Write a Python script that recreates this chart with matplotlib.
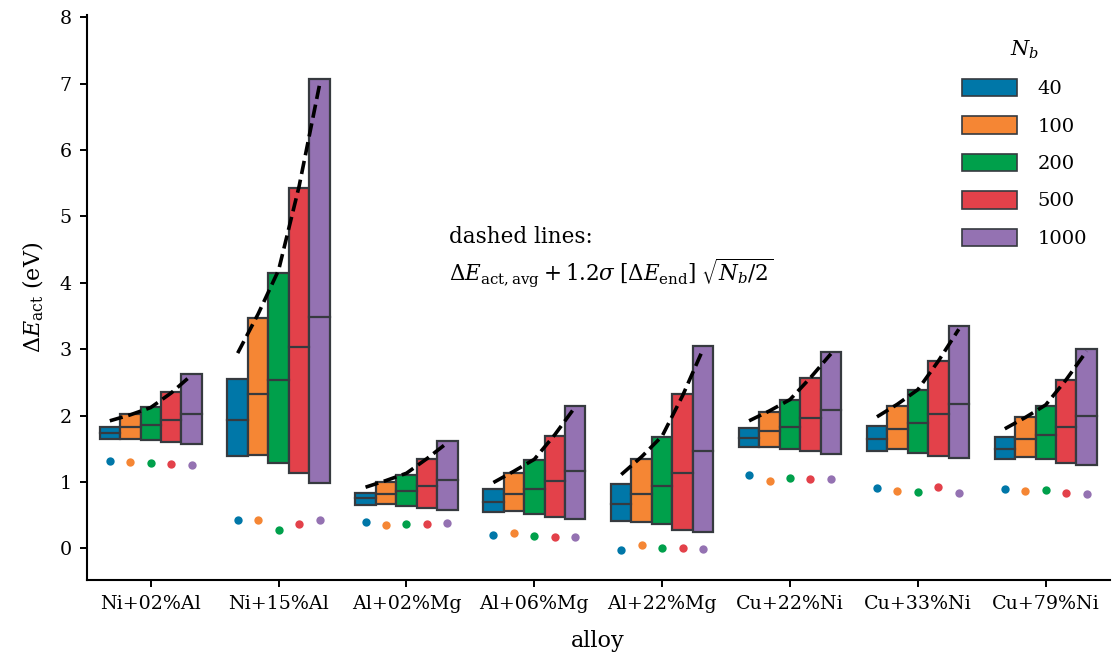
import numpy as np
import matplotlib
matplotlib.use("Agg")
import matplotlib.pyplot as plt
from matplotlib.patches import Patch

plt.rcParams["font.family"] = ["DejaVu Serif"]
plt.rcParams["mathtext.fontset"] = "dejavuserif"

alloys = ["Ni+02%Al", "Ni+15%Al", "Al+02%Mg", "Al+06%Mg",
          "Al+22%Mg", "Cu+22%Ni", "Cu+33%Ni", "Cu+79%Ni"]
n_b = ["40", "100", "200", "500", "1000"]
colors = ["#0077a8", "#f58634", "#00a04b", "#e3414a", "#9472b2"]

# box limits per alloy (rows) and N_b (columns)
low = np.array([
    [1.64, 1.65, 1.63, 1.60, 1.57],
    [1.39, 1.40, 1.29, 1.13, 0.99],
    [0.65, 0.66, 0.63, 0.61, 0.58],
    [0.55, 0.56, 0.51, 0.47, 0.44],
    [0.41, 0.40, 0.36, 0.28, 0.25],
    [1.53, 1.53, 1.50, 1.47, 1.42],
    [1.46, 1.49, 1.44, 1.39, 1.36],
    [1.35, 1.38, 1.34, 1.29, 1.26],
])
median = np.array([
    [1.74, 1.82, 1.85, 1.93, 2.02],
    [1.93, 2.33, 2.54, 3.03, 3.48],
    [0.75, 0.81, 0.86, 0.94, 1.03],
    [0.70, 0.81, 0.89, 1.01, 1.17],
    [0.66, 0.82, 0.94, 1.14, 1.46],
    [1.66, 1.76, 1.82, 1.96, 2.08],
    [1.64, 1.79, 1.88, 2.02, 2.18],
    [1.49, 1.65, 1.70, 1.82, 1.99],
])
high = np.array([
    [1.82, 2.02, 2.13, 2.36, 2.62],
    [2.55, 3.47, 4.14, 5.42, 7.07],
    [0.83, 1.00, 1.11, 1.35, 1.61],
    [0.89, 1.14, 1.33, 1.69, 2.14],
    [0.97, 1.34, 1.68, 2.33, 3.05],
    [1.81, 2.05, 2.24, 2.57, 2.95],
    [1.84, 2.15, 2.38, 2.82, 3.35],
    [1.68, 1.97, 2.15, 2.53, 3.00],
])
dots = np.array([
    [1.32, 1.30, 1.29, 1.27, 1.26],
    [0.43, 0.42, 0.27, 0.37, 0.43],
    [0.39, 0.35, 0.36, 0.36, 0.38],
    [0.20, 0.23, 0.19, 0.17, 0.17],
    [-0.02, 0.05, 0.00, 0.00, -0.01],
    [1.11, 1.02, 1.06, 1.04, 1.05],
    [0.91, 0.87, 0.85, 0.92, 0.84],
    [0.89, 0.86, 0.88, 0.84, 0.81],
])
dashed = np.array([
    [1.92, 2.01, 2.12, 2.34, 2.61],
    [2.94, 3.53, 4.19, 5.45, 6.98],
    [0.92, 1.02, 1.13, 1.35, 1.59],
    [0.99, 1.16, 1.34, 1.71, 2.13],
    [1.11, 1.38, 1.69, 2.30, 3.00],
    [1.92, 2.07, 2.24, 2.57, 2.93],
    [1.98, 2.17, 2.39, 2.82, 3.30],
    [1.80, 1.97, 2.16, 2.54, 2.97],
])

fig = plt.figure(figsize=(11.13, 6.63), dpi=100)
ax = fig.add_axes([0.078, 0.125, 0.919, 0.852])

x = np.arange(len(alloys))
w = 0.16
edge = "#363a3f"
for j in range(len(n_b)):
    xs = x + (j - 2) * w
    ax.bar(xs, high[:, j] - low[:, j], bottom=low[:, j], width=w,
           color=colors[j], edgecolor=edge, linewidth=1.6, zorder=2)
    for i in range(len(alloys)):
        ax.plot([xs[i] - w / 2, xs[i] + w / 2], [median[i, j]] * 2,
                color=edge, lw=1.6, zorder=3)
    ax.scatter(xs, dots[:, j], s=36, color=colors[j], zorder=3, linewidths=0)

for i in range(len(alloys)):
    xs = x[i] + (np.arange(len(n_b)) - 2) * w
    ax.plot(xs, dashed[i], color="black", ls="--", lw=2.6, zorder=4)

ax.text(2.33, 4.86,
        "dashed lines:\n"
        r"$\Delta E_{\mathrm{act,avg}} + 1.2\sigma\;[\Delta E_{\mathrm{end}}]\;\sqrt{N_b/2}$",
        fontsize=15.5, va="top", ha="left", linespacing=1.35)

handles = [Patch(facecolor=c, edgecolor=edge, linewidth=1.2) for c in colors]
leg = ax.legend(handles, n_b, title="$N_b$", loc="upper right",
                bbox_to_anchor=(0.995, 0.99), frameon=False, fontsize=14,
                title_fontsize=15, handlelength=2.85, handleheight=1.0,
                labelspacing=0.93, handletextpad=1.05)

ax.set_xlim(-0.5, 7.5)
ax.set_ylim(-0.48, 8.03)
ax.set_xticks(x)
ax.set_xticklabels(alloys)
ax.set_yticks(range(0, 9))
ax.tick_params(labelsize=13.7, width=1.4, length=5, pad=6)
ax.set_xlabel("alloy", fontsize=16, labelpad=12)
ax.set_ylabel(r"$\Delta E_{\mathrm{act}}$ (eV)", fontsize=16, labelpad=10)
for s in ["top", "right"]:
    ax.spines[s].set_visible(False)
for s in ["left", "bottom"]:
    ax.spines[s].set_linewidth(1.5)

fig.savefig("out.png", dpi=100)
